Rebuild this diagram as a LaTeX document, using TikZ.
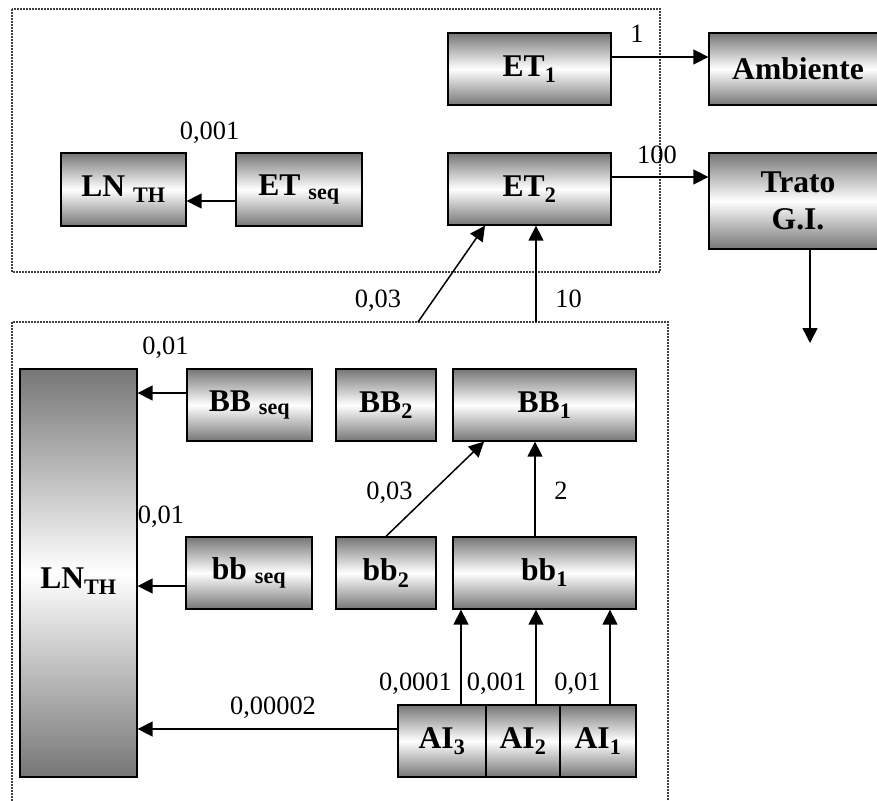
\documentclass[tikz,border=0pt]{standalone}
\usepackage{fontspec}
\setmainfont{Liberation Serif}
\usetikzlibrary{arrows.meta}
\definecolor{boxgray}{RGB}{118,118,118}
\tikzset{
  box/.style={draw=black, line width=1.3pt, rectangle, inner sep=0pt,
    top color=boxgray, bottom color=boxgray, middle color=white,
    font=\fontsize{31.6}{37}\selectfont\bfseries, align=center},
  lbl/.style={anchor=base, inner sep=0pt, font=\fontsize{26.4}{30}\selectfont},
  arr/.style={line width=1.5pt, -{Triangle[length=15pt,width=15pt]}},
  dotbox/.style={line width=1.6pt, black!75, dash pattern=on 1.6pt off 1.4pt}
}
\begin{document}
\begin{tikzpicture}[x=1pt,y=-1pt]
\clip (0,0) rectangle (877,800);
\fill[white] (0,0) rectangle (877,800);
% dotted frames
\draw[dotbox] (12,9) rectangle (660,272);
\draw[dotbox] (12,322) rectangle (668,812);
% upper nodes
\node[box, minimum width=125pt, minimum height=73pt] (lnA) at (123.5,189.5) {LN\ \textsubscript{TH}};
\node[box, minimum width=126pt, minimum height=73pt] (etseq) at (299,189.5) {ET\ \textsubscript{seq}};
\node[box, minimum width=163pt, minimum height=72pt] (et1) at (529.5,69) {ET\textsubscript{1}};
\node[box, minimum width=178pt, minimum height=72pt] (amb) at (798,69) {Ambiente};
\node[box, minimum width=163pt, minimum height=72pt] (et2) at (529.5,189) {ET\textsubscript{2}};
\node[box, minimum width=178pt, minimum height=96pt] (trato) at (798,201) {Trato\\G.I.};
% lower nodes
\node[box, minimum width=117pt, minimum height=408pt, text depth=0pt] (lnB) at (78.5,573) {\raisebox{-10pt}{LN\textsubscript{TH}}};
\node[box, minimum width=125pt, minimum height=72pt] (bbseq) at (249.5,405) {BB\ \textsubscript{seq}};
\node[box, minimum width=100pt, minimum height=72pt] (BBtwo) at (386,405) {BB\textsubscript{2}};
\node[box, minimum width=183pt, minimum height=72pt] (BBone) at (544.5,405) {BB\textsubscript{1}};
\node[box, minimum width=126pt, minimum height=72pt] (bbs) at (249,573) {bb\ \textsubscript{seq}};
\node[box, minimum width=100pt, minimum height=72pt] (bbtwo) at (386,573) {bb\textsubscript{2}};
\node[box, minimum width=183pt, minimum height=72pt] (bbone) at (544.5,573) {bb\textsubscript{1}};
\node[box, minimum width=88pt, minimum height=72pt] (aithree) at (442,741) {AI\textsubscript{3}};
\node[box, minimum width=74pt, minimum height=72pt] (aitwo) at (523,741) {AI\textsubscript{2}};
\node[box, minimum width=76pt, minimum height=72pt] (aione) at (598,741) {AI\textsubscript{1}};
% free ends
\coordinate (gidown) at (810,343);
\coordinate (srcA) at (418,322);
\coordinate (srcB) at (536,322);
% connectors
\draw[arr] ([yshift=12pt]et1.east) -- ([yshift=12pt]et1.east -| amb.west);
\draw[arr] ([yshift=12pt]et2.east) -- ([yshift=12pt]et2.east -| trato.west);
\draw[arr] ([xshift=12pt]trato.south) -- (gidown);
\draw[arr] ([yshift=-11.5pt]etseq.west) -- ([yshift=-11.5pt]etseq.west -| lnA.east);
\draw[arr] (srcA) -- ([xshift=-44.5pt]et2.south);
\draw[arr] (srcB) -- (srcB |- et2.south);
\draw[arr] ([yshift=12pt]bbseq.west) -- ([yshift=12pt]bbseq.west -| lnB.east);
\draw[arr] ([yshift=-13pt]bbs.west) -- ([yshift=-13pt]bbs.west -| lnB.east);
\draw[arr] ([yshift=12pt]aithree.west) -- ([yshift=12pt]aithree.west -| lnB.east);
\draw[arr] (bbtwo.north) -- ([xshift=-60.5pt]BBone.south);
\draw[arr] ([xshift=-9.5pt]bbone.north) -- ([xshift=-9.5pt]BBone.south);
\draw[arr] ([xshift=19pt]aithree.north) -- ([xshift=19pt]aithree.north |- bbone.south);
\draw[arr] ([xshift=13pt]aitwo.north) -- ([xshift=13pt]aitwo.north |- bbone.south);
\draw[arr] ([xshift=12pt]aione.north) -- ([xshift=12pt]aione.north |- bbone.south);
% labels
\node[lbl] (l1) at (637,43) {1};
\node[lbl] (l100) at (657,163) {100};
\node[lbl] (l0001a) at (209.5,139) {0,001};
\node[lbl] (l10) at (568.5,307) {10};
\node[lbl] (l003a) at (378,307) {0,03};
\node[lbl] (l001a) at (165.5,354) {0,01};
\node[lbl] (l001b) at (161,523) {0,01};
\node[lbl] (l00002) at (273,714) {0,00002};
\node[lbl] (l003b) at (389.5,499) {0,03};
\node[lbl] (l2) at (561,499) {2};
\node[lbl] (l00001) at (415.5,690) {0,0001};
\node[lbl] (l0001b) at (496.5,690) {0,001};
\node[lbl] (l001c) at (577.5,690) {0,01};
\end{tikzpicture}
\end{document}
